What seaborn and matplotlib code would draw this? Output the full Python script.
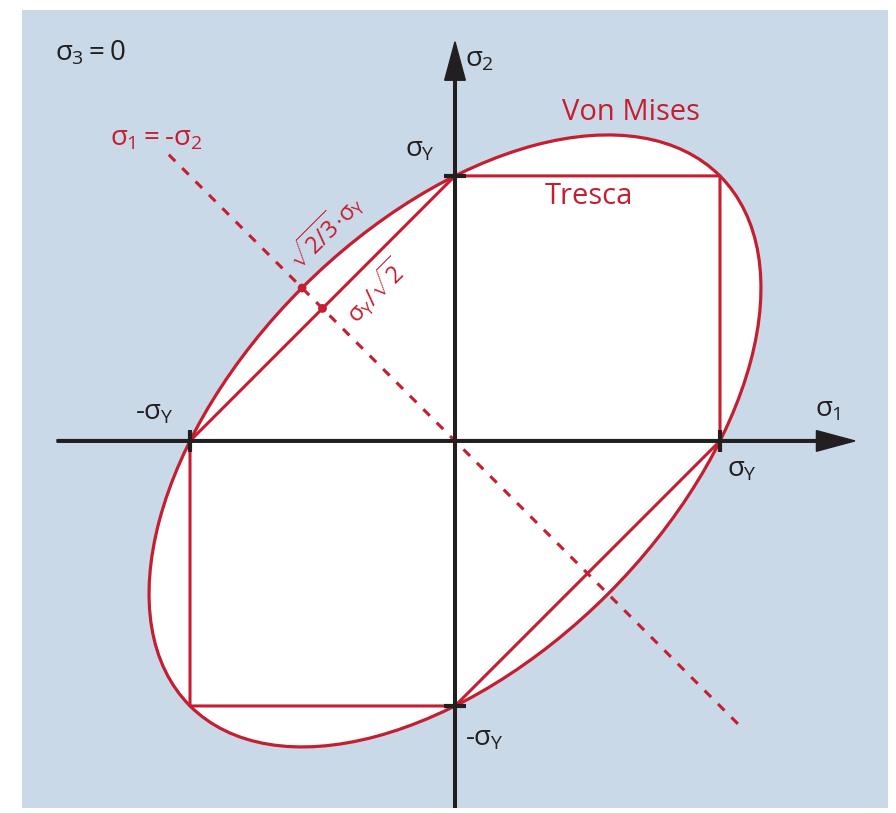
import numpy as np
import pandas as pd
import seaborn as sns
import matplotlib.pyplot as plt
from matplotlib.patches import Ellipse

# yield stress (normalised) and criterion geometry
sigma_y = 1.0
vm_major = 2.828   # full width along sigma1 = sigma2
vm_minor = 1.633   # full width along sigma1 = -sigma2
vm_angle = 45

# Tresca hexagon vertices
tresca_s1 = [1, 1, 0, -1, -1, 0, 1]
tresca_s2 = [0, 1, 1, 0, -1, -1, 0]

# pure shear line sigma1 = -sigma2
shear_s1 = [-1.08, 1.08]
shear_s2 = [1.08, -1.08]

# marked points on the shear line
mark_s1 = [-0.577, -0.5]
mark_s2 = [0.577, 0.5]

red = '#c41e30'
black = '#231f20'
blue = '#c9d9e8'

sns.set_style('white')
plt.rcParams['font.family'] = ['Open Sans', 'DejaVu Sans']
plt.rcParams['mathtext.fontset'] = 'custom'
plt.rcParams['mathtext.rm'] = 'Open Sans'
plt.rcParams['mathtext.it'] = 'Open Sans'
plt.rcParams['mathtext.bf'] = 'Open Sans:bold'

fig = plt.figure(figsize=(8.96, 8.13), dpi=100)
ax = fig.add_axes([22 / 896, 5 / 813, 866 / 896, 798 / 813])
ax.set_facecolor(blue)
ax.set_xlim(-1.634, 1.634)
ax.set_ylim(-1.385, 1.626)
ax.set_xticks([])
ax.set_yticks([])
for sp in ax.spines.values():
    sp.set_visible(False)

# von Mises ellipse (white fill + red outline)
ax.add_patch(Ellipse((0, 0), vm_major, vm_minor, angle=vm_angle,
                     facecolor='white', edgecolor='none', zorder=1))
ax.add_patch(Ellipse((0, 0), vm_major, vm_minor, angle=vm_angle,
                     facecolor='none', edgecolor=red, lw=2.3, zorder=3))

tresca = pd.DataFrame({'s1': tresca_s1, 's2': tresca_s2})
sns.lineplot(data=tresca, x='s1', y='s2', sort=False, estimator=None,
             color=red, lw=2.2, ax=ax, zorder=3)

shear = pd.DataFrame({'s1': shear_s1, 's2': shear_s2})
sns.lineplot(data=shear, x='s1', y='s2', sort=False, estimator=None,
             color=red, lw=2.2, ax=ax, zorder=2, dashes=False,
             linestyle=(0, (3.0, 3.2)))

sns.scatterplot(x=mark_s1, y=mark_s2, color=red, s=40, edgecolor='none',
                ax=ax, zorder=4)

# coordinate axes with arrows
ax.arrow(-1.502, 0, 3.011, 0, width=0.010, head_width=0.078, head_length=0.145,
         length_includes_head=True, color=black, zorder=5)
ax.arrow(0, -1.40, 0, 2.906, width=0.010, head_width=0.078, head_length=0.145,
         length_includes_head=True, color=black, zorder=5)

# ticks at +/- sigma_y
tl = 0.042
for v in [-sigma_y, sigma_y]:
    ax.plot([v, v], [-tl, tl], color=black, lw=3, zorder=6, solid_capstyle='butt')
    ax.plot([-tl, tl], [v, v], color=black, lw=3, zorder=6, solid_capstyle='butt')

fs = 20
ax.text(-1.509, 1.464, r'$\sigma_3 = 0$', fontsize=fs, color=black, va='center')
ax.text(0.038, 1.438, r'$\sigma_2$', fontsize=fs, color=black, va='center')
ax.text(1.358, 0.117, r'$\sigma_1$', fontsize=fs, color=black, va='center')
ax.text(-0.189, 1.098, r'$\sigma_Y$', fontsize=fs, color=black, va='center')
ax.text(1.026, -0.109, r'$\sigma_Y$', fontsize=fs, color=black, va='center')
ax.text(-1.208, 0.106, r'-$\sigma_Y$', fontsize=fs, color=black, va='center')
ax.text(0.038, -1.121, r'-$\sigma_Y$', fontsize=fs, color=black, va='center')

ax.text(-1.302, 1.143, r'$\sigma_1 = $-$\sigma_2$', fontsize=fs, color=red, va='center')
ax.text(0.404, 1.238, 'Von Mises', fontsize=21, color=red, va='center')
ax.text(0.340, 0.921, 'Tresca', fontsize=21, color=red, va='center')
ax.text(-0.49, 0.79, r'$\sqrt{2/3}{\cdot}\sigma_Y$', fontsize=17, color=red,
        rotation=45, ha='center', va='center', rotation_mode='anchor')
ax.text(-0.30, 0.565, r'$\sigma_Y/\sqrt{2}$', fontsize=17, color=red,
        rotation=45, ha='center', va='center', rotation_mode='anchor')

fig.savefig('out.png', dpi=100, facecolor='white')
